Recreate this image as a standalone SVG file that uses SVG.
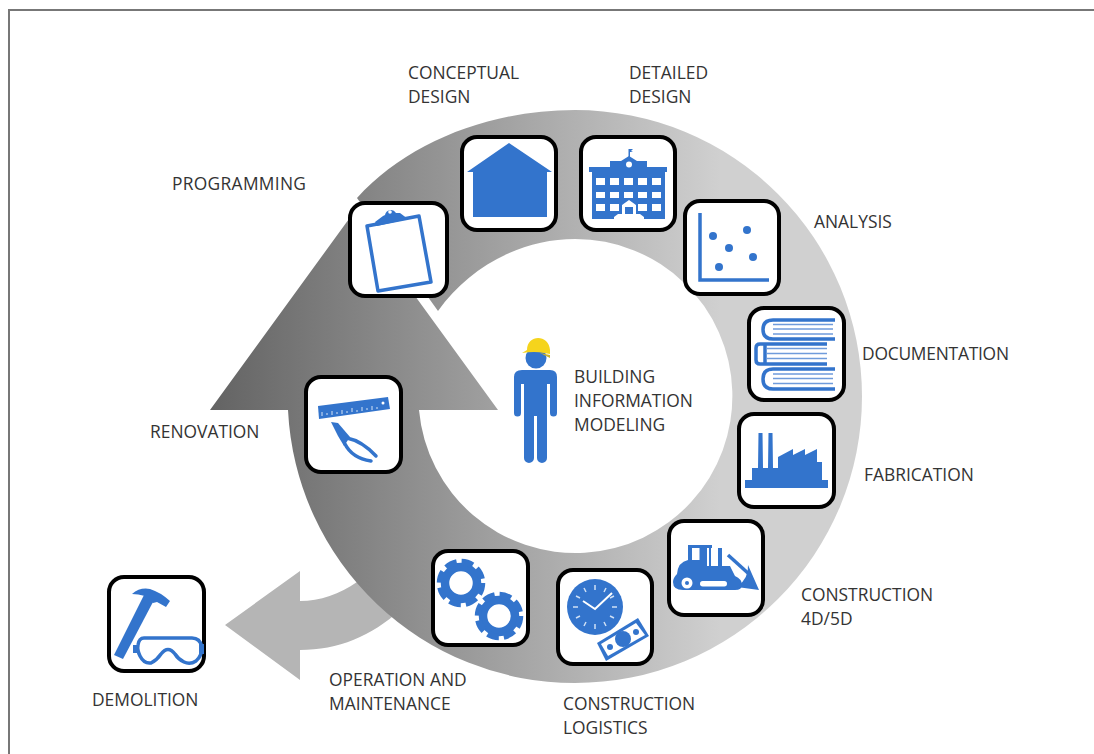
<svg xmlns="http://www.w3.org/2000/svg" xmlns:xlink="http://www.w3.org/1999/xlink" width="1094" height="754" viewBox="0 0 1094 754">
<style>
.box{fill:#fff;stroke:#000;stroke-width:4}
.i{fill:#3374cc}
.l{fill:none;stroke:#3374cc;stroke-width:3.500}
.p{fill:none;stroke:#6f9bdb;stroke-width:1.600}
.w{fill:#fff}
.t{fill:#333;font-family:"Open Sans","Noto Sans",sans-serif;font-size:17.400px}
</style>
<defs>
<linearGradient id="g" gradientUnits="userSpaceOnUse" x1="210" y1="0" x2="720" y2="0">
<stop offset="0" stop-color="#636363"/><stop offset="1" stop-color="#d0d0d0"/>
</linearGradient>
<g id="gear"><circle r="16" fill="none" stroke="#3374cc" stroke-width="8.500"/><circle r="21" fill="none" stroke="#3374cc" stroke-width="6.500" stroke-dasharray="11.500 4.990"/></g>
</defs>
<rect width="1094" height="754" fill="#fff"/>
<path d="M8 10H1094M9 9V754" fill="none" stroke="#777" stroke-width="2"/>
<g id="connectors">
<path id="exit-arrow" fill="#b5b5b5" d="M225 625L300 571V601C320 601 340 594 357 582L400 610C372 636 338 650 300 650V680Z"/>
<path id="cycle" fill="url(#g)" d="M357 198C408 142 490 110 575 110A287 286.500 0 0 1 575 683A287 287 0 0 1 288 410H210L354 212L498 410H419A157 157 0 1 0 575 239C522 239 470 266 438 311Z"/>
</g>
<g id="bim"><path class="i" d="M522 370H550Q557 370 557 377V413A3.500 3.500 0 0 1 550 413V384H547V458A5 5 0 0 1 537 458V416H534V458A5 5 0 0 1 524 458V384H521V413A3.500 3.500 0 0 1 514 413V377Q514 370 522 370Z"/><circle class="i" cx="536" cy="358" r="10.500"/><path fill="#f5d41c" d="M527 350C527 334 549 334 550 350L550 354L544 353Q535 351 522 353Z"/><path fill="#c9b22e" d="M540 353L550 355L550 358Z"/><text class="t"><tspan x="574" y="383">BUILDING</tspan><tspan x="574" y="407">INFORMATION</tspan><tspan x="574" y="431">MODELING</tspan></text></g>
<g id="programming"><rect class="box" x="350" y="203" width="97" height="93" rx="15"/><path class="l" d="M367 226L419 216L431 282L378 291Z" stroke-linejoin="round"/><path class="i" d="M375 222L383 216L385 215A6 6 0 0 1 396 213L400 213L408 219L377 226Z"/><circle class="w" cx="390" cy="212" r="1.800"/><text class="t" x="172" y="190" textLength="134">PROGRAMMING</text></g>
<g id="conceptual"><rect class="box" x="462" y="137" width="94" height="93" rx="15"/><path class="i" d="M509 143L552 172H547V217H473V172H467Z"/><text class="t"><tspan x="408" y="79">CONCEPTUAL</tspan><tspan x="408" y="103">DESIGN</tspan></text></g>
<g id="detailed"><rect class="box" x="581" y="137" width="94" height="93" rx="15"/>
<path class="i" d="M589 167H610V161H621L629 156L637 161H647V167H667V172H665V219H644V217L640 214H618L614 217V219H592V172H589Z"/><path class="i" d="M628.500 157V149H633L631 151L633 152H630V157Z"/><circle class="w" cx="629" cy="164.500" r="3"/>
<path class="w" d="M596 178h9v7h-9zM610 178h9v7h-9zM624 178h9v7h-9zM638 178h9v7h-9zM652 178h9v7h-9zM596 192h9v6h-9zM610 192h9v6h-9zM624 192h9v6h-9zM638 192h9v6h-9zM652 192h9v6h-9zM596 204h9v7h-9zM610 204h9v7h-9zM638 204h9v7h-9zM652 204h9v7h-9z"/><path class="w" d="M622 214V205L629 200L636 205V214H633V207H625V214Z"/>
<text class="t"><tspan x="629" y="79">DETAILED</tspan><tspan x="629" y="103">DESIGN</tspan></text></g>
<g id="analysis"><rect class="box" x="685" y="201" width="94" height="93" rx="15"/><path class="l" d="M700 213V280H769" stroke-width="3"/><circle class="i" cx="713" cy="236" r="4"/><circle class="i" cx="747" cy="230" r="4"/><circle class="i" cx="729" cy="248" r="4"/><circle class="i" cx="753" cy="257" r="4"/><circle class="i" cx="719" cy="267" r="4"/><text class="t" x="814" y="228">ANALYSIS</text></g>
<g id="documentation"><rect class="box" x="749" y="308" width="95" height="92" rx="15"/><path class="l" d="M835 320H773Q763 320 763 329.500Q763 339 773 339H835M827 344H760Q756 344 756 348V360Q756 364 760 364H827M835 369H773Q763 369 763 379Q763 389 773 389H835"/><path class="l" d="M765 344V364" stroke-width="2"/><path class="p" d="M773 324.500H833M773 329H833M773 334H833M767 348.500H827M767 353.500H827M767 358.500H827M773 374H833M773 378.500H833M773 383.500H833"/><text class="t" x="862" y="360" textLength="147">DOCUMENTATION</text></g>
<g id="fabrication"><rect class="box" x="739" y="414" width="95" height="93" rx="15"/><path class="i" d="M745 488H828V480H822V462H817V449L805 455V449L793 455V449L778 457V468H773L772.500 433H768.500L768 468H763L762.500 433H758.500L758 468H752V480H745Z"/><text class="t" x="864" y="481">FABRICATION</text></g>
<g id="construction"><rect class="box" x="669" y="521" width="94" height="94" rx="15"/><path class="i" fill-rule="evenodd" d="M688 545H712V548H711V567H688ZM692 548V560H699.500V548ZM707 548V566H709V548Z"/><path class="i" d="M677 574Q678 562 688 560H707V566H718V548H722V566H730L735 576Q742 579 742 585Q742 590 735 590H683Q673 590 673 582Q673 578 677 574Z"/><path class="l" d="M728 555L749 574" stroke-width="3"/><path class="i" d="M748 565L759 590L737 587Q749 578 748 565Z"/><circle class="w" cx="687" cy="583" r="5.500"/><circle class="i" cx="687" cy="583" r="2"/><rect class="w" x="700" y="581" width="27" height="5.500" rx="2.700"/><text class="t"><tspan x="801" y="601">CONSTRUCTION</tspan><tspan x="801" y="625">4D/5D</tspan></text></g>
<g id="logistics"><rect class="box" x="558" y="570" width="94" height="94" rx="15"/><circle class="i" cx="595" cy="607" r="28"/><path fill="none" stroke="#cfe0f5" stroke-width="1.500" d="M595 585v5M595 624v5M573 607h5M612 607h5M584 588l2 4M606 588l-2 4M576 596l4 2M614 596l-4 2M576 618l4-2M614 618l-4-2M584 626l2-4M606 626l-2-4"/><path fill="none" stroke="#fff" stroke-width="2" d="M612 593L595 609L583 601"/><path class="i" d="M597 643L638 618L649 636L606 661Z"/><path class="w" d="M601 644L636 623L645 635L608 656Z"/><circle class="i" cx="623" cy="639" r="8"/><circle class="i" cx="610" cy="647" r="3"/><circle class="i" cx="636" cy="632" r="3"/><text class="t"><tspan x="563" y="710">CONSTRUCTION</tspan><tspan x="563" y="734">LOGISTICS</tspan></text></g>
<g id="operation"><rect class="box" x="433" y="551" width="95" height="94" rx="15"/><use xlink:href="#gear" x="461" y="583"/><use xlink:href="#gear" x="499" y="616"/><text class="t"><tspan x="329" y="686">OPERATION AND</tspan><tspan x="329" y="710">MAINTENANCE</tspan></text></g>
<g id="renovation"><rect class="box" x="306" y="377" width="95" height="95" rx="15"/><path class="i" d="M318 406L388 397L390 409L319 419Z"/><path fill="none" stroke="#d5e3f6" stroke-width="1" d="M322 416V412M327 415V413M332 415V411M337 414V412M342 414V410M347 413V411M352 412V408M357 412V410M362 411V407M367 410V408M372 410V406M377 409V407"/><circle class="w" cx="383" cy="403" r="1.500"/><path class="i" d="M331 422L338 423L350 437L344 446L338 436Z"/><path class="l" d="M347 438Q362 441 376 456M345 444Q352 458 371 461" stroke-linecap="round" stroke-width="4"/><text class="t" x="150" y="438">RENOVATION</text></g>
<g id="demolition"><rect class="box" x="109" y="577" width="95" height="94" rx="15"/><path class="i" d="M114 655L145 593L153 602L123 659Z"/><path class="i" d="M132 594Q140 587 150 589Q160 592 170 601L166 607L157 602L153 603L145 596Q138 594 132 594Z"/><path class="l" d="M144 638H192Q200 638 202 647Q202 656 196 661Q190 665 184 662Q178 659 175 654Q168 645 161 654Q157 660 151 663Q144 664 140 656Q137 650 138 645Q139 638 144 638Z" stroke-width="3"/><path class="i" d="M133 645H139V653H133ZM199 644H204V654H199Z"/><text class="t" x="92" y="706">DEMOLITION</text></g>
</svg>
